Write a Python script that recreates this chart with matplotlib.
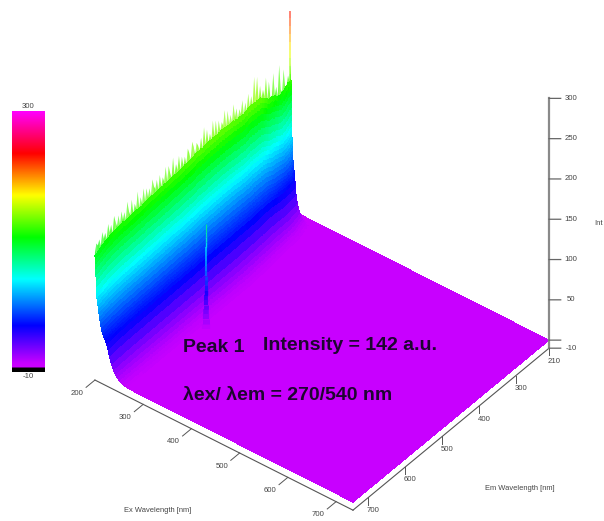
import numpy as np
import matplotlib
matplotlib.use("Agg")
import matplotlib.pyplot as plt
from matplotlib.colors import LinearSegmentedColormap, Normalize
from mpl_toolkits.mplot3d import proj3d
from mpl_toolkits.mplot3d.art3d import Line3DCollection

plt.rcParams["font.family"] = ["Liberation Sans", "DejaVu Sans"]

W, H = 604, 521

# intensity at the ex = 200 edge, one value every 4 nm of em starting at 210
ridge = [
    172, 135, 160, 130, 148, 172, 132, 150, 182, 135, 158, 140, 178, 138, 150, 172, 152, 180, 158, 168,
    152, 176, 156, 190, 165, 193,
    160, 172, 150, 178, 158, 170, 155, 176, 160, 168, 156, 172, 162, 180, 158, 170, 160, 178, 156, 182, 164, 170,
    160, 175, 156, 178, 160, 181, 158, 168, 155, 176, 160, 182, 156, 172, 158, 165, 170, 154, 168, 176, 155, 165, 172, 152, 165,
    155, 168, 148, 172, 156, 165, 150, 176, 152, 160, 170, 148, 172, 155, 162, 150, 168, 146, 165, 155, 160, 170, 148, 162, 152,
    165, 148, 168, 150, 160, 145, 170, 150, 158, 146, 166, 148, 155, 168, 145, 158, 150, 162, 144, 160, 148, 155, 164, 142,
    156, 148, 160, 143, 152, 146, 156, 140, 150, 144, 148, 138,
]
em_first, em_step = 210, 4

# falloff of the wall with excitation wavelength
ex_rows = [200, 200.5, 201, 201.5, 202, 202.5, 203, 203.5, 204, 205, 206, 207, 208, 209, 210, 211.5, 213, 214.5,
           216, 218, 220, 222, 224, 227, 230, 234, 238, 242, 246, 250, 256, 262, 268, 280, 735]
ex_frac = [1.0, .97, .93, .89, .84, .79, .74, .69, .65, .62, .59, .56, .53, .50, .47, .44, .41, .38,
           .36, .34, .325, .31, .29, .25, .20, .14, .10, .07, .05, .03, .018, .009, .004, .001, 0]
# the wall gets narrower towards the back corner
narrow_em = [210, 225, 260, 400, 742]
narrow_by = [.3, .7, .85, 1, 1]

# peak 1 and the scatter spike at the corner, drawn as vertical columns
peak_ex, peak_em = 275, 540
peak_levels = [0, 6, 12, 18, 24, 30, 36, 42, 48, 54, 60, 66, 72, 78, 84, 90, 96, 102, 108, 114, 120, 130]
peak_widths = [6, 5, 4.5, 4, 3.5, 3, 2.8, 2.5, 2.2, 2, 1.8, 1.6, 1.5, 1.4, 1.3, 1.2, 1.1, 1, 1, .9, .8]
spike_ex, spike_em = 200, 214
spike_levels = [150, 160, 170, 180, 190, 200, 210, 220, 230, 240, 248]

# colour scale of the bar
scale_z = [-10, -5.5, -5, 0, 45, 100, 150, 200, 250, 300]
scale_colors = ["#000000", "#000000", "#cc00ff", "#c800ff", "#0000ff", "#00ffff", "#00ff00", "#ffff00", "#ff0000", "#ff00ff"]

ex_ticks = [200, 300, 400, 500, 600, 700]
em_ticks = [210, 300, 400, 500, 600, 700]
z_ticks = [-10, 0, 50, 100, 150, 200, 250, 300]
ex_end, em_end, z_low, z_high = 735, 742, -10, 300

norm = Normalize(z_low, z_high)
cmap = LinearSegmentedColormap.from_list(
    "scale", [(norm(z), c) for z, c in zip(scale_z, scale_colors)], N=620)

fig = plt.figure(figsize=(W / 100, H / 100), dpi=100, facecolor="white")
pos = [-0.3, -0.3, 1.6, 1.6 * W / H]
ax = fig.add_axes(pos, projection="3d")
ax.set_proj_type("ortho")
ax.view_init(elev=40.2, azim=38)
ax.set_xlim(em_first, em_end)
ax.set_ylim(ex_rows[0], ex_end)
ax.set_zlim(z_low, z_high)
ax.set_axis_off()
ax.computed_zorder = False
ax.patch.set_alpha(0)
aspect = (318.4, 327.4, 327)
zoom = 1.0
ax.set_box_aspect(aspect, zoom=zoom)


def to_px(em, ex, z):
    xp, yp, _ = proj3d.proj_transform(em, ex, z, ax.get_proj())
    return ax.transData.transform((xp, yp))


# fit the box to the corners of the floor
fig.canvas.draw()
b = to_px(em_first, ex_rows[0], 0)
c = to_px(em_first, ex_end, 0)
zoom = zoom * 289.0 / np.hypot(*(c - b))
ax.set_box_aspect(aspect, zoom=zoom)
fig.canvas.draw()
b = to_px(em_first, ex_rows[0], 0)
pos[0] += (291 - b[0]) / W
pos[1] += (H - 210 - b[1]) / H
ax.set_position(pos)
fig.canvas.draw()

em_grid = em_first + em_step * np.arange(len(ridge))
tops = np.array(ridge, dtype=float) + 10
# the jagged tips sit on a smooth body
body = np.convolve(np.pad(tops, 6, mode="edge"), np.ones(13) / 13, mode="valid") - 8

EM, EX = np.meshgrid(em_grid, ex_rows)
narrow = np.interp(em_grid, narrow_em, narrow_by)
EX[:-1] = ex_rows[0] + (EX[:-1] - ex_rows[0]) * narrow
Z = np.outer(ex_frac, body)
cell = (Z[:-1, :-1] + Z[1:, :-1] + Z[:-1, 1:] + Z[1:, 1:]) / 4
ax.plot_surface(EM, EX, Z, facecolors=cmap(norm(cell)), rstride=1, cstride=1, shade=False,
                linewidth=0, antialiased=False, zorder=2)

# pale tips along the top of the wall
tip_z = np.vstack([np.maximum(tops, body), body])
tip_cell = (tip_z[0, :-1] + tip_z[0, 1:] + tip_z[1, :-1] + tip_z[1, 1:]) / 4
tip_colors = cmap(norm(tip_cell)).reshape(1, -1, 4)
tip_colors[..., 3] = 0.75
ax.plot_surface(EM[:2], np.full((2, len(em_grid)), float(ex_rows[0])), tip_z, facecolors=tip_colors,
                rstride=1, cstride=1, shade=False, linewidth=0, antialiased=True, zorder=1)


def column(em, ex, levels, widths, alpha):
    pts = [[(em, ex, a), (em, ex, b)] for a, b in zip(levels[:-1], levels[1:])]
    mids = [(a + b) / 2 for a, b in zip(levels[:-1], levels[1:])]
    ax.add_collection3d(Line3DCollection(pts, colors=cmap(norm(mids)), linewidths=widths, alpha=alpha, zorder=3))


column(peak_em, peak_ex, peak_levels, peak_widths, 0.8)
column(spike_em, spike_ex, spike_levels, 1.1, 0.7)

# axis lines and ticks
line = "#555555"
ax.plot([em_end, em_end], [ex_rows[0], ex_end], [z_low, z_low], color=line, lw=0.8, zorder=4)
ax.plot([em_first, em_end], [ex_end, ex_end], [z_low, z_low], color=line, lw=0.8, zorder=4)
ax.plot([em_first, em_first], [ex_end, ex_end], [z_low, z_high], color="#8a8a8a", lw=1.6, zorder=4)


def label(text, em, ex, z, dx, dy):
    xp, yp, _ = proj3d.proj_transform(em, ex, z, ax.get_proj())
    ax.annotate(text, (xp, yp), xytext=(dx, dy), textcoords="offset pixels", ha="center", va="center",
                fontsize=5.6, color="#444444", annotation_clip=False, zorder=6)


for v in ex_ticks:
    ax.plot([em_end, em_end + 24], [v, v], [z_low, z_low], color=line, lw=0.7, zorder=4)
    label(str(v), em_end, v, z_low, -18, -13)
for v in em_ticks:
    ax.plot([v, v], [ex_end, ex_end], [z_low, z_low - 9], color=line, lw=0.7, zorder=4)
    label(str(v), v, ex_end, z_low, 5, -13)
for v in z_ticks:
    ax.plot([em_first, em_first - 12], [ex_end, ex_end + 15], [v, v], color="#666666", lw=0.9, zorder=4)
    if v != 0:
        label(str(v), em_first, ex_end, v, 22, 0)

# colour bar
cax = fig.add_axes([12 / W, 1 - 372 / H, 33 / W, 261 / H])
grad = np.linspace(z_high, z_low, 522).reshape(-1, 1)
cax.imshow(grad, cmap=cmap, norm=norm, aspect="auto", interpolation="bilinear")
cax.set_axis_off()


def px_text(x, y, text, **kw):
    kw.setdefault("fontsize", 5.6)
    kw.setdefault("color", "#444444")
    kw.setdefault("ha", "center")
    kw.setdefault("va", "center")
    fig.text(x / W, 1 - y / H, text, **kw)


px_text(28, 107, "300")
px_text(28, 377, "-10")
px_text(158, 511, "Ex Wavelength [nm]", fontsize=5.4)
px_text(520, 488, "Em Wavelength [nm]", fontsize=5.4)
px_text(603, 224, "Int", ha="right", fontsize=5.6)
note = dict(fontsize=14, fontweight="bold", color="#1e0530", ha="left")
px_text(183, 347, "Peak 1", **note)
px_text(263, 345, "Intensity = 142 a.u.", **note)
px_text(183, 395, "λex/ λem = 270/540 nm", **note)

fig.savefig("out.png", dpi=100)
